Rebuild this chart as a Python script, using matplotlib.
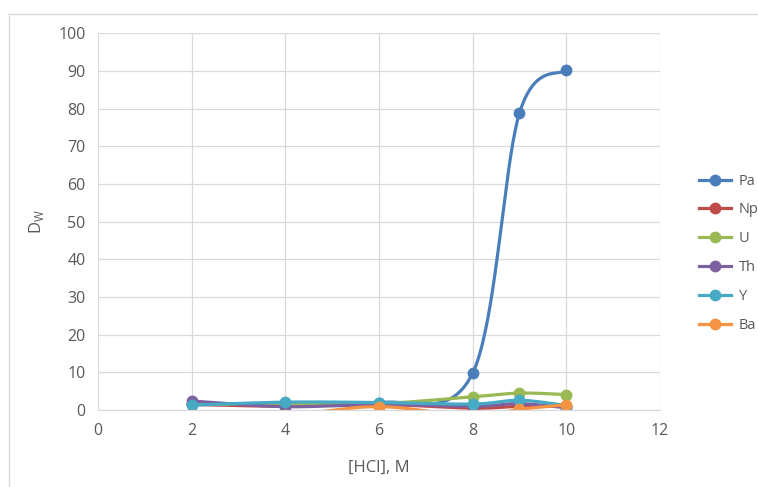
import numpy as np
import matplotlib
matplotlib.use("Agg")
import matplotlib.pyplot as plt
from matplotlib.lines import Line2D

plt.rcParams['font.family'] = ['Open Sans', 'DejaVu Sans']

# data (points below 0 are clipped by the axis in the original)
hcl = [2, 4, 6, 8, 9, 10]
pa = [1.5, 1.5, 1.9, 9.8, 78.8, 90.2]
np_ = [1.5, 1.0, 1.5, 0.5, 1.0, 1.0]
u = [1.5, 1.5, 1.7, 3.5, 4.5, 4.1]
th = [2.4, 0.9, 1.5, 1.0, 1.7, 0.6]
y_ = [1.3, 2.1, 2.0, 1.6, 2.6, 1.2]
ba = [-1.3, -1.3, 0.9, -1.6, 0.2, 1.4]

names = ["Pa", "Np", "U", "Th", "Y", "Ba"]
series = [pa, np_, u, th, y_, ba]
colors = ["#4A7EBB", "#BE4B48", "#98B954", "#7D60A0", "#46AAC5", "#F59343"]


def smooth(xs, ys, n=40):
    # Excel style smoothed line: catmull-rom through the points as bezier segments
    P = np.column_stack([xs, ys]).astype(float)
    out = []
    for i in range(len(P) - 1):
        p0 = P[i - 1] if i > 0 else P[i]
        p1 = P[i]
        p2 = P[i + 1]
        p3 = P[i + 2] if i + 2 < len(P) else P[i + 1]
        c1 = p1 + (p2 - p0) / 6
        c2 = p2 - (p3 - p1) / 6
        t = np.linspace(0, 1, n)[:, None]
        seg = (1 - t) ** 3 * p1 + 3 * (1 - t) ** 2 * t * c1 + 3 * (1 - t) * t ** 2 * c2 + t ** 3 * p2
        out.append(seg if i == 0 else seg[1:])
    out = np.vstack(out)
    return out[:, 0], out[:, 1]


fig = plt.figure(figsize=(7.58, 4.87), dpi=100)
ax = fig.add_axes([0.1293, 0.158, 0.7414, 0.774])

for name, vals, c in zip(names, series, colors):
    sx, sy = smooth(hcl, vals)
    ax.plot(sx, sy, color=c, lw=2.3, solid_capstyle='round')
    ax.plot(hcl, vals, 'o', color=c, ms=7.5, linestyle='none')

ax.set_xlim(0, 12)
ax.set_ylim(0, 100)
ax.set_xticks(range(0, 13, 2))
ax.set_yticks(range(0, 101, 10))
ax.grid(True, color="#D9D9D9", lw=0.9)
ax.set_axisbelow(True)
for s in ["top", "right", "left"]:
    ax.spines[s].set_visible(False)
ax.spines["bottom"].set_color("#D9D9D9")
ax.tick_params(length=0, colors="#595959", labelsize=11.5, pad=9)

ax.set_xlabel("[HCl], M", color="#595959", fontsize=12, labelpad=15)
ax.set_ylabel(r"D$_\mathregular{W}$", color="#595959", fontsize=12, labelpad=9)

# legend on the right
handles = [Line2D([], [], color=c, lw=2.3, marker='o', ms=7.5) for c in colors]
fig.legend(handles, names, loc="center left", bbox_to_anchor=(0.905, 0.48),
           frameon=False, fontsize=10.5, labelcolor="#595959",
           handlelength=2.2, handletextpad=0.5, labelspacing=0.95)

# chart area border
fig.add_artist(Line2D([9 / 758, 1], [1 - 14 / 487, 1 - 14 / 487], color="#D9D9D9", lw=1))
fig.add_artist(Line2D([9 / 758, 9 / 758], [0, 1 - 14 / 487], color="#D9D9D9", lw=1))

fig.savefig("out.png", dpi=100)
